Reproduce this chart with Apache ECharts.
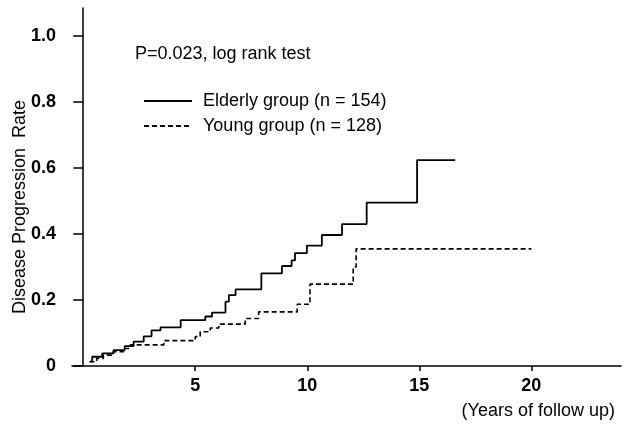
<!DOCTYPE html>
<html>
<head>
<meta charset="utf-8">
<script src="https://cdn.jsdelivr.net/npm/echarts@6/dist/echarts.min.js"></script>
<style>
  html, body { margin: 0; padding: 0; background: #fff; }
  #chart { width: 624px; height: 431px; }
</style>
</head>
<body>
<div id="chart"></div>
<script>
// Kaplan-Meier style cumulative progression
const elderlyYears = [0.3, 0.4, 0.85, 1.35, 1.85, 2.25, 2.7, 3.05, 3.45, 4.35, 5.45, 5.75, 6.35, 6.5, 6.8, 7.95, 8.87, 9.3, 9.45, 9.98, 10.65, 11.55, 12.65, 14.9, 16.6];
const elderlyRate  = [0.013, 0.028, 0.038, 0.048, 0.06, 0.074, 0.09, 0.108, 0.117, 0.139, 0.15, 0.162, 0.195, 0.215, 0.232, 0.281, 0.303, 0.32, 0.342, 0.365, 0.397, 0.43, 0.495, 0.624, 0.624];

const youngYears = [0.28, 0.6, 0.9, 1.35, 1.8, 2.1, 3.6, 5.0, 5.22, 5.67, 6.05, 7.23, 7.83, 9.55, 10.12, 12.05, 12.18, 20];
const youngRate  = [0.013, 0.023, 0.033, 0.043, 0.053, 0.064, 0.077, 0.089, 0.104, 0.115, 0.127, 0.144, 0.164, 0.187, 0.248, 0.30, 0.355, 0.355];

const xTicks = [5, 10, 15, 20];
const yTicks = [0, 0.2, 0.4, 0.6, 0.8, 1.0];

const font = "'Liberation Sans', Arial, sans-serif";

const chart = echarts.init(document.getElementById("chart"));
chart.setOption({
  animation: false,
  title: {
    text: "P=0.023, log rank test",
    left: 135,
    top: 45,
    padding: 0,
    textStyle: { fontFamily: font, fontSize: 18, fontWeight: "normal", color: "#000" }
  },
  legend: {
    orient: "vertical",
    left: 143,
    top: 92,
    padding: 0,
    itemWidth: 48,
    itemHeight: 14,
    itemGap: 7,
    itemStyle: { opacity: 0 },
    data: ["Elderly group (n = 154)", "Young group (n = 128)"],
    textStyle: { fontFamily: font, fontSize: 18, color: "#000", lineHeight: 18, padding: [0, 0, 0, 6] }
  },
  grid: { left: 72, right: 3, top: 8, bottom: 65 },
  xAxis: {
    type: "value",
    min: -0.5,
    max: 24,
    splitLine: { show: false },
    axisLine: { lineStyle: { color: "#000", width: 1.5 } },
    axisTick: { customValues: xTicks, length: 5, lineStyle: { color: "#000", width: 1.5 } },
    axisLabel: {
      customValues: xTicks,
      margin: 11,
      color: "#000",
      fontFamily: font,
      fontSize: 18,
      fontWeight: "bold"
    }
  },
  yAxis: {
    type: "value",
    min: 0,
    max: 1.085,
    splitLine: { show: false },
    axisLine: { show: true, onZero: true, lineStyle: { color: "#000", width: 1.5 } },
    axisTick: { customValues: yTicks, length: 10, lineStyle: { color: "#000", width: 1.5 } },
    axisLabel: {
      customValues: yTicks,
      margin: 16,
      color: "#000",
      fontFamily: font,
      fontSize: 18,
      fontWeight: "bold",
      formatter: v => (v === 0 ? "0" : v.toFixed(1))
    }
  },
  graphic: [
    {
      type: "text",
      x: 20,
      y: 207,
      rotation: Math.PI / 2,
      style: {
        text: "Disease Progression  Rate",
        font: "18px " + font,
        fill: "#000",
        align: "center",
        verticalAlign: "middle"
      }
    },
    {
      type: "text",
      right: 9,
      top: 402,
      style: {
        text: "(Years of follow up)",
        font: "18px " + font,
        fill: "#000"
      }
    }
  ],
  series: [
    {
      name: "Elderly group (n = 154)",
      type: "line",
      step: "end",
      symbol: "none",
      lineStyle: { color: "#000", width: 1.8 },
      itemStyle: { color: "#000" },
      data: elderlyYears.map((t, i) => [t, elderlyRate[i]])
    },
    {
      name: "Young group (n = 128)",
      type: "line",
      step: "end",
      symbol: "none",
      lineStyle: { color: "#000", width: 1.6, type: [5, 3] },
      itemStyle: { color: "#000" },
      data: youngYears.map((t, i) => [t, youngRate[i]])
    }
  ]
});
</script>
</body>
</html>
